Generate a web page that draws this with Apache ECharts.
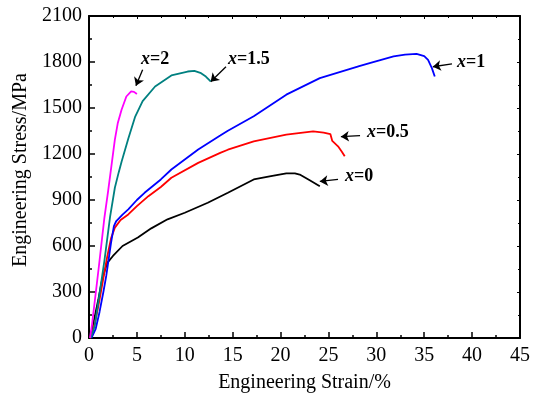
<!DOCTYPE html>
<html>
<head>
<meta charset="utf-8">
<script src="https://cdn.jsdelivr.net/npm/echarts@6/dist/echarts.min.js"></script>
<style>html,body{margin:0;padding:0;background:#fff}#c{width:537px;height:398px}</style>
</head>
<body>
<div id="c"></div>
<script>
// Tick settings
const xTicks = {min: 0, max: 45, interval: 5};
const yTicks = {min: 0, max: 2100, interval: 300};

// Series names
const seriesNames = ['x=0', 'x=0.5', 'x=1', 'x=1.5', 'x=2'];

// [strain %, stress MPa]
const curveX0 = [[0,0],[0.3,50],[0.7,170],[1.0,260],[1.3,360],[1.6,430],[1.9,490],[2.1,505],[2.5,535],[3.5,600],[5.1,655],[6.5,715],[8.2,774],[10.0,817],[12.4,882],[14.5,947],[17.2,1034],[19.0,1055],[20.6,1073],[21.5,1074],[22.0,1066],[23.0,1030],[24.1,990]];
const curveX05 = [[0.1,0],[0.3,20],[0.7,120],[1.1,250],[1.5,390],[1.9,530],[2.3,650],[2.7,720],[3.3,770],[4.1,806],[5.0,860],[6.2,925],[7.5,985],[8.6,1045],[11.4,1142],[13.7,1207],[14.5,1228],[17.2,1283],[20.6,1326],[23.4,1348],[24.5,1340],[25.2,1330],[25.4,1285],[26.0,1250],[26.4,1215],[26.7,1185]];
const curveX1 = [[0.25,0],[0.4,10],[0.7,60],[1.1,170],[1.5,300],[1.8,405],[2.3,620],[2.6,730],[2.85,763],[3.5,805],[4.1,839],[5.0,900],[5.8,947],[7.5,1034],[8.6,1099],[11.4,1229],[13.7,1320],[14.5,1352],[17.2,1446],[20.6,1587],[24.1,1695],[28.3,1775],[29.3,1793],[31.8,1836],[33.0,1848],[34.2,1853],[35.0,1838],[35.4,1814],[35.8,1760],[36.1,1705]];
const curveX15 = [[0.2,0],[0.6,80],[1.1,290],[1.6,500],[2.2,790],[2.7,980],[3.1,1080],[3.4,1150],[4.1,1300],[4.8,1440],[5.6,1545],[6.9,1640],[8.6,1712],[10.3,1738],[11.0,1742],[11.7,1727],[12.2,1705],[12.7,1673]];
const curveX2 = [[0.1,0],[0.3,80],[1.0,450],[1.6,780],[2.0,960],[2.4,1150],[2.7,1294],[3.0,1400],[3.4,1489],[3.9,1575],[4.4,1608],[4.7,1605],[5.0,1591]];

const curves = [curveX0, curveX05, curveX1, curveX15, curveX2];
const colors = ['#000000', '#ff0000', '#0000ff', '#008080', '#ff00ff'];

// Annotation placement (data coords): label centre, arrow start, arrow end
const labelText = ['0', '0.5', '1', '1.5', '2'];
const labelPos = [[28.2,1053],[31.2,1339],[39.9,1795],[16.7,1820],[6.9,1820]];
const arrowFrom = [[26.0,1034],[28.3,1320],[37.9,1788],[14.3,1769],[5.6,1749]];
const arrowTo = [[24.1,1021],[26.3,1313],[35.9,1769],[12.7,1671],[4.9,1645]];

const FONT = '"Liberation Serif","Times New Roman",serif';

const chart = echarts.init(document.getElementById('c'), null, {renderer: 'canvas'});

function axisStyle(major, minor, w) {
  return {
    axisLine: {show: true, onZero: false, lineStyle: {color: '#000', width: 2}},
    axisTick: {show: true, inside: true, length: major, lineStyle: {color: '#000', width: w}},
    minorTick: {show: true, splitNumber: 2, length: minor, lineStyle: {color: '#000', width: w}},
    splitLine: {show: false}
  };
}

const series = curves.map((d, i) => ({
  name: seriesNames[i],
  type: 'line',
  data: d,
  showSymbol: false,
  symbol: 'none',
  lineStyle: {color: colors[i], width: 1.8},
  itemStyle: {color: colors[i]},
  z: 3 + i,
  markLine: {
    silent: true,
    symbol: ['none', 'arrow'],
    symbolSize: 8,
    label: {show: false},
    itemStyle: {color: '#000'},
    lineStyle: {color: '#000', width: 1.3, type: 'solid'},
    animation: false,
    data: [[{coord: arrowFrom[i]}, {coord: arrowTo[i]}]]
  },
  markPoint: {
    silent: true,
    symbol: 'circle',
    symbolSize: 0,
    animation: false,
    label: {
      show: true,
      position: 'inside',
      formatter: '{i|x}{b|=' + labelText[i] + '}',
      rich: {
        i: {fontFamily: FONT, fontSize: 18, fontStyle: 'italic', fontWeight: 'bold', color: '#000'},
        b: {fontFamily: FONT, fontSize: 18, fontWeight: 'bold', color: '#000'}
      }
    },
    data: [{coord: labelPos[i]}]
  }
}));

chart.setOption({
  animation: false,
  backgroundColor: '#fff',
  grid: {left: 89, right: 17, top: 16, bottom: 59, containLabel: false},
  xAxis: [
    Object.assign({
      type: 'value', position: 'bottom',
      min: xTicks.min, max: xTicks.max, interval: xTicks.interval,
      name: 'Engineering Strain/%', nameLocation: 'middle', nameGap: 35,
      nameTextStyle: {fontFamily: FONT, fontSize: 20, color: '#000'},
      axisLabel: {fontFamily: FONT, fontSize: 20, color: '#000', margin: 8, formatter: v => String(v)}
    }, axisStyle(6, 3, 1.5)),
    Object.assign({
      type: 'value', position: 'top',
      min: xTicks.min, max: xTicks.max, interval: xTicks.interval,
      axisLabel: {show: false}
    }, axisStyle(3, 2, 1))
  ],
  yAxis: [
    Object.assign({
      type: 'value', position: 'left',
      min: yTicks.min, max: yTicks.max, interval: yTicks.interval,
      name: 'Engineering Stress/MPa', nameLocation: 'middle', nameGap: 52,
      nameTextStyle: {fontFamily: FONT, fontSize: 20, color: '#000', padding: [0, 0, 0, 14]},
      axisLabel: {fontFamily: FONT, fontSize: 20, color: '#000', margin: 7, formatter: v => String(v)}
    }, axisStyle(6, 3, 1.5)),
    Object.assign({
      type: 'value', position: 'right',
      min: yTicks.min, max: yTicks.max, interval: yTicks.interval,
      axisLabel: {show: false}
    }, axisStyle(3, 2, 1))
  ],
  series: series
});
</script>
</body>
</html>
